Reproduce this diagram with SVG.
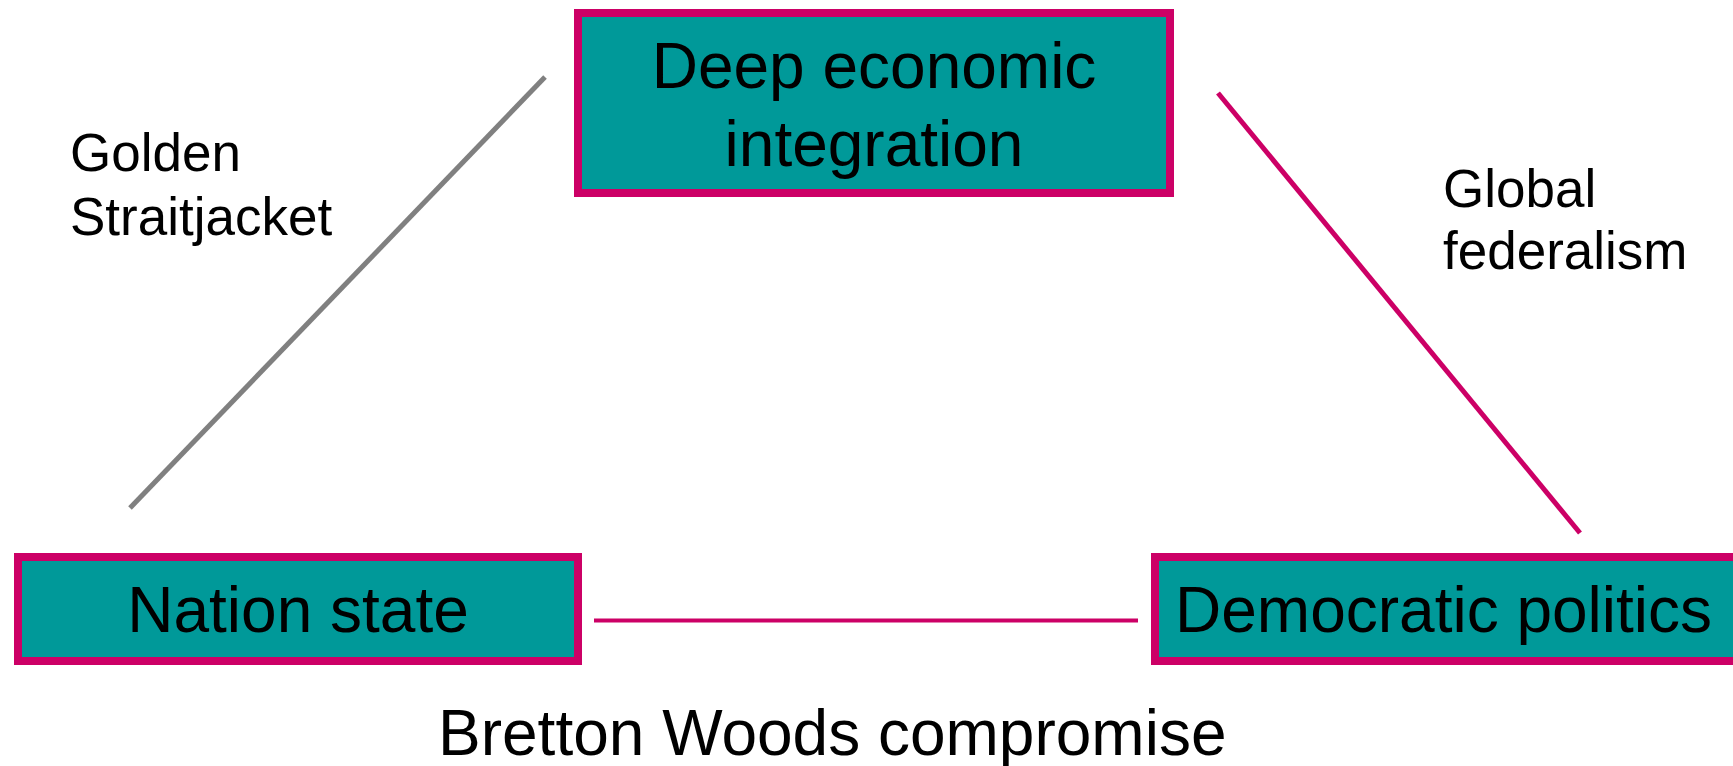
<svg xmlns="http://www.w3.org/2000/svg" width="1733" height="766" viewBox="0 0 1733 766">
<style>
.box{fill:#009999;stroke:#CC0066;stroke-width:8}
.t{font-family:"Liberation Sans",Arial,sans-serif;fill:#000}
.big{font-size:64px}
.sm{font-size:53px}
.pink{stroke:#CC0066;stroke-width:5;fill:none}
.gray{stroke:#808080;stroke-width:5;fill:none}
</style>
<rect width="1733" height="766" fill="#ffffff"/>
<g id="connectors">
<line class="gray" x1="545" y1="77" x2="130" y2="508"/>
<line class="pink" x1="1218" y1="93" x2="1580" y2="533"/>
<line class="pink" x1="594" y1="620.5" x2="1138" y2="620.5" style="stroke-width:4"/>
</g>
<g id="node-deep">
<rect class="box" x="578" y="13" width="592" height="180"/>
<text class="t big" x="874" y="88" text-anchor="middle">Deep economic</text>
<text class="t big" x="874" y="166" text-anchor="middle">integration</text>
</g>
<g id="node-nation">
<rect class="box" x="18" y="557" width="560" height="104"/>
<text class="t big" x="298" y="632" text-anchor="middle">Nation state</text>
</g>
<g id="node-democratic">
<rect class="box" x="1155" y="557" width="700" height="104"/>
<text class="t big" x="1175" y="632">Democratic politics</text>
</g>
<g id="labels">
<text class="t sm" x="70" y="171">Golden</text>
<text class="t sm" x="70" y="235">Straitjacket</text>
<text class="t sm" x="1443" y="207">Global</text>
<text class="t sm" x="1443" y="269">federalism</text>
<text class="t big" x="438" y="755">Bretton Woods compromise</text>
</g>
</svg>
